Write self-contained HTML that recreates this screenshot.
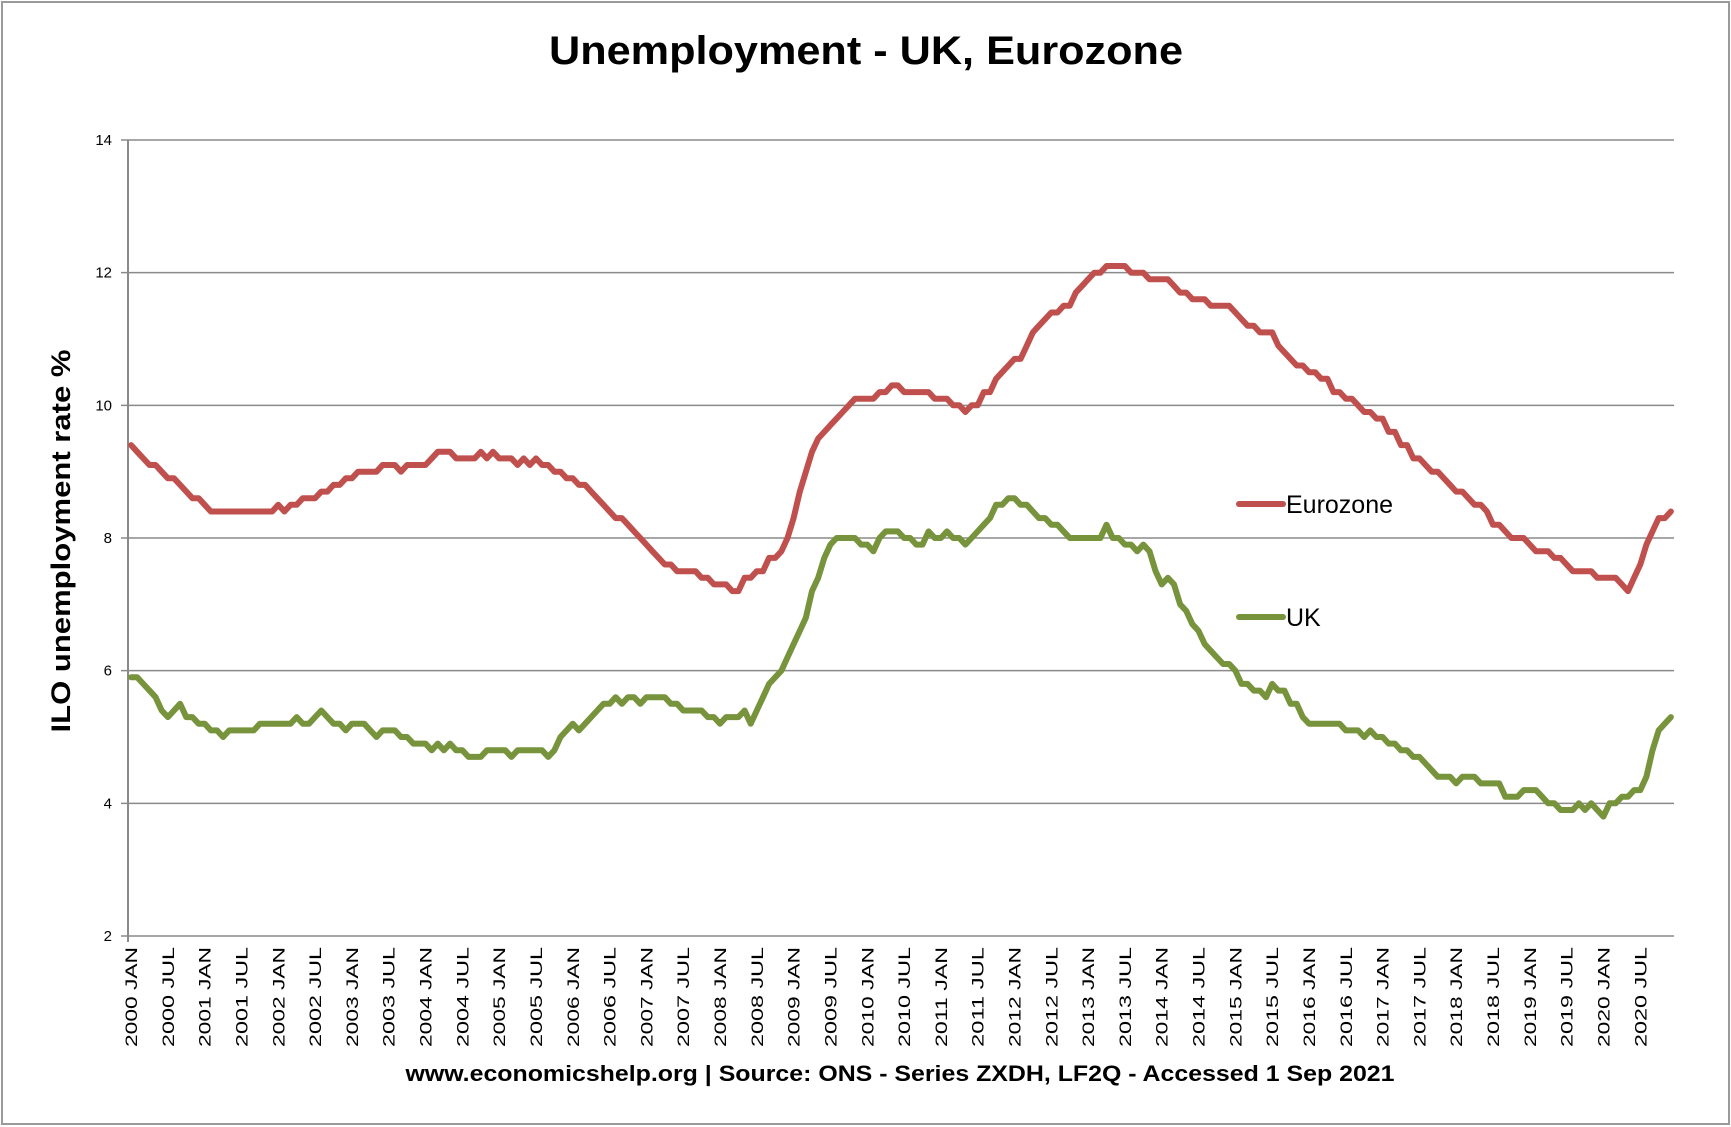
<!DOCTYPE html>
<html><head><meta charset="utf-8"><style>
html,body{margin:0;padding:0;background:#fff;}
svg{display:block;font-family:"Liberation Sans",sans-serif;}
</style></head><body>
<svg id="chart" width="1731" height="1127" viewBox="0 0 1731 1127" xmlns="http://www.w3.org/2000/svg">
<rect x="2" y="2" width="1727" height="1122" fill="#fff" stroke="#9a9a9a" stroke-width="2"/>
<text x="866" y="64" text-anchor="middle" font-size="40" font-weight="bold" textLength="634" lengthAdjust="spacingAndGlyphs">Unemployment - UK, Eurozone</text>
<text transform="translate(70,541) rotate(-90)" text-anchor="middle" font-size="27" font-weight="bold" textLength="383" lengthAdjust="spacingAndGlyphs">ILO unemployment rate %</text>
<text x="900" y="1081" text-anchor="middle" font-size="22" font-weight="bold" textLength="989" lengthAdjust="spacingAndGlyphs">www.economicshelp.org | Source: ONS - Series ZXDH, LF2Q - Accessed 1 Sep 2021</text>
<g id="grid"></g><g id="axes"></g><g id="series"></g>
<g>
<line x1="1239" y1="504" x2="1283" y2="504" stroke="#C0504D" stroke-width="6" stroke-linecap="round"/>
<text x="1286" y="513" font-size="25">Eurozone</text>
<line x1="1239" y1="617" x2="1283" y2="617" stroke="#77933C" stroke-width="6" stroke-linecap="round"/>
<text x="1286" y="626" font-size="25">UK</text>
</g>
</svg>
<script>
const yTicks=[2,4,6,8,10,12,14];
const years=[2000,2001,2002,2003,2004,2005,2006,2007,2008,2009,2010,2011,2012,2013,2014,2015,2016,2017,2018,2019,2020];
const eurozone=[
9.4,9.3,9.2,9.1,9.1,9.0,8.9,8.9,8.8,8.7,8.6,8.6,
8.5,8.4,8.4,8.4,8.4,8.4,8.4,8.4,8.4,8.4,8.4,8.4,
8.5,8.4,8.5,8.5,8.6,8.6,8.6,8.7,8.7,8.8,8.8,8.9,
8.9,9.0,9.0,9.0,9.0,9.1,9.1,9.1,9.0,9.1,9.1,9.1,
9.1,9.2,9.3,9.3,9.3,9.2,9.2,9.2,9.2,9.3,9.2,9.3,
9.2,9.2,9.2,9.1,9.2,9.1,9.2,9.1,9.1,9.0,9.0,8.9,
8.9,8.8,8.8,8.7,8.6,8.5,8.4,8.3,8.3,8.2,8.1,8.0,
7.9,7.8,7.7,7.6,7.6,7.5,7.5,7.5,7.5,7.4,7.4,7.3,
7.3,7.3,7.2,7.2,7.4,7.4,7.5,7.5,7.7,7.7,7.8,8.0,
8.3,8.7,9.0,9.3,9.5,9.6,9.7,9.8,9.9,10.0,10.1,10.1,
10.1,10.1,10.2,10.2,10.3,10.3,10.2,10.2,10.2,10.2,10.2,10.1,
10.1,10.1,10.0,10.0,9.9,10.0,10.0,10.2,10.2,10.4,10.5,10.6,
10.7,10.7,10.9,11.1,11.2,11.3,11.4,11.4,11.5,11.5,11.7,11.8,
11.9,12.0,12.0,12.1,12.1,12.1,12.1,12.0,12.0,12.0,11.9,11.9,
11.9,11.9,11.8,11.7,11.7,11.6,11.6,11.6,11.5,11.5,11.5,11.5,
11.4,11.3,11.2,11.2,11.1,11.1,11.1,10.9,10.8,10.7,10.6,10.6,
10.5,10.5,10.4,10.4,10.2,10.2,10.1,10.1,10.0,9.9,9.9,9.8,
9.8,9.6,9.6,9.4,9.4,9.2,9.2,9.1,9.0,9.0,8.9,8.8,
8.7,8.7,8.6,8.5,8.5,8.4,8.2,8.2,8.1,8.0,8.0,8.0,
7.9,7.8,7.8,7.8,7.7,7.7,7.6,7.5,7.5,7.5,7.5,7.4,
7.4,7.4,7.4,7.3,7.2,7.4,7.6,7.9,8.1,8.3,8.3,8.4];
const uk=[
5.9,5.9,5.8,5.7,5.6,5.4,5.3,5.4,5.5,5.3,5.3,5.2,
5.2,5.1,5.1,5.0,5.1,5.1,5.1,5.1,5.1,5.2,5.2,5.2,
5.2,5.2,5.2,5.3,5.2,5.2,5.3,5.4,5.3,5.2,5.2,5.1,
5.2,5.2,5.2,5.1,5.0,5.1,5.1,5.1,5.0,5.0,4.9,4.9,
4.9,4.8,4.9,4.8,4.9,4.8,4.8,4.7,4.7,4.7,4.8,4.8,
4.8,4.8,4.7,4.8,4.8,4.8,4.8,4.8,4.7,4.8,5.0,5.1,
5.2,5.1,5.2,5.3,5.4,5.5,5.5,5.6,5.5,5.6,5.6,5.5,
5.6,5.6,5.6,5.6,5.5,5.5,5.4,5.4,5.4,5.4,5.3,5.3,
5.2,5.3,5.3,5.3,5.4,5.2,5.4,5.6,5.8,5.9,6.0,6.2,
6.4,6.6,6.8,7.2,7.4,7.7,7.9,8.0,8.0,8.0,8.0,7.9,
7.9,7.8,8.0,8.1,8.1,8.1,8.0,8.0,7.9,7.9,8.1,8.0,
8.0,8.1,8.0,8.0,7.9,8.0,8.1,8.2,8.3,8.5,8.5,8.6,
8.6,8.5,8.5,8.4,8.3,8.3,8.2,8.2,8.1,8.0,8.0,8.0,
8.0,8.0,8.0,8.2,8.0,8.0,7.9,7.9,7.8,7.9,7.8,7.5,
7.3,7.4,7.3,7.0,6.9,6.7,6.6,6.4,6.3,6.2,6.1,6.1,
6.0,5.8,5.8,5.7,5.7,5.6,5.8,5.7,5.7,5.5,5.5,5.3,
5.2,5.2,5.2,5.2,5.2,5.2,5.1,5.1,5.1,5.0,5.1,5.0,
5.0,4.9,4.9,4.8,4.8,4.7,4.7,4.6,4.5,4.4,4.4,4.4,
4.3,4.4,4.4,4.4,4.3,4.3,4.3,4.3,4.1,4.1,4.1,4.2,
4.2,4.2,4.1,4.0,4.0,3.9,3.9,3.9,4.0,3.9,4.0,3.9,
3.8,4.0,4.0,4.1,4.1,4.2,4.2,4.4,4.8,5.1,5.2,5.3];

const NS="http://www.w3.org/2000/svg";
const L=128,R=1674,T=140,B=936,yMin=2,yMax=14;
const N=years.length*12;
const step=(R-L)/N;
function xPos(i){return L+step*(i+0.5);}
function yPos(v){return B-(v-yMin)/(yMax-yMin)*(B-T);}
function mk(tag,attrs,parent){const e=document.createElementNS(NS,tag);for(const k in attrs)e.setAttribute(k,attrs[k]);parent.appendChild(e);return e;}
const grid=document.getElementById('grid'),axes=document.getElementById('axes'),series=document.getElementById('series');
yTicks.forEach(v=>{
  const y=yPos(v);
  const g=mk('line',{x1:L-7,y1:y,x2:R,y2:y,stroke:'#8a8a8a','stroke-width':1.5},grid);
  
  
  const t=mk('text',{x:L-16,y:y+5,'text-anchor':'end','font-size':15},axes);
  
  
  t.textContent=v;
});
const ax=mk('line',{x1:L,y1:T,x2:L,y2:B+6,stroke:'#8a8a8a','stroke-width':2},axes);


years.forEach((yr,k)=>{
  ['JAN','JUL'].forEach((m,j)=>{
    const i=k*12+j*6;
    const x=xPos(i);
    const t=mk('text',{transform:'translate('+(x+6)+','+(B+11)+') rotate(-90)','text-anchor':'end','font-size':17,textLength:100,lengthAdjust:'spacingAndGlyphs'},axes);
    
    
    t.textContent=yr+' '+m;
  });
});
function drawLine(data,color,name){
  const d=data.map((v,i)=>(i?'L':'M')+xPos(i).toFixed(1)+' '+yPos(v).toFixed(1)).join(' ');
  const p=mk('path',{d:d,fill:'none',stroke:color,'stroke-width':6,'stroke-linejoin':'round','stroke-linecap':'round'},series);
  
  
}
drawLine(eurozone,'#C0504D','eurozone-line');
drawLine(uk,'#77933C','uk-line');
</script>
</body></html>
